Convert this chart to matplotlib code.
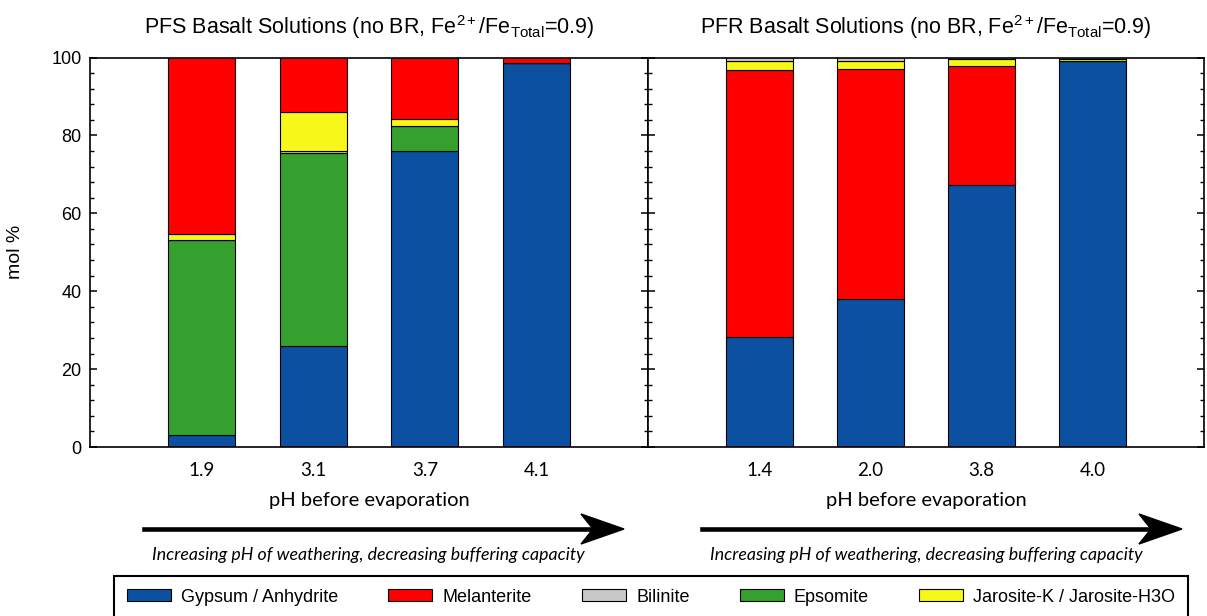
import matplotlib
matplotlib.use("Agg")
import matplotlib.pyplot as plt
from matplotlib.patches import Patch, Polygon
from matplotlib.lines import Line2D
from matplotlib.ticker import MultipleLocator

plt.rcParams['font.family'] = ['Liberation Sans', 'DejaVu Sans']
plt.rcParams['mathtext.fontset'] = 'custom'
plt.rcParams['mathtext.rm'] = 'Liberation Sans'
plt.rcParams['mathtext.it'] = 'Liberation Sans:italic'

# PFS basalt solutions
pfs_ph = ["1.9", "3.1", "3.7", "4.1"]
pfs_gypsum = [3.0, 26.0, 76.0, 98.5]
pfs_epsomite = [50.2, 49.5, 6.4, 0.0]
pfs_bilinite = [0.0, 0.6, 0.0, 0.0]
pfs_jarosite = [1.5, 9.9, 1.8, 0.0]
pfs_melanterite = [45.3, 14.0, 15.8, 1.5]

# PFR basalt solutions
pfr_ph = ["1.4", "2.0", "3.8", "4.0"]
pfr_gypsum = [28.3, 38.1, 67.2, 99.2]
pfr_melanterite = [68.5, 59.0, 30.7, 0.0]
pfr_jarosite = [2.2, 1.9, 1.6, 0.3]
pfr_bilinite = [1.0, 1.0, 0.5, 0.5]

minerals = ["Gypsum / Anhydrite", "Melanterite", "Bilinite", "Epsomite", "Jarosite-K / Jarosite-H3O"]
colors = {"Gypsum / Anhydrite": "#0c50a1", "Melanterite": "#ff0000", "Bilinite": "#c8c8c8",
          "Epsomite": "#35a02d", "Jarosite-K / Jarosite-H3O": "#f7f71a"}

W, H = 1207, 616
fig = plt.figure(figsize=(W / 100, H / 100), dpi=100)


def fx(px):
    return px / W


def fy(py):
    return 1 - py / H


ax1 = fig.add_axes([fx(90), fy(447), fx(648) - fx(90), fy(57.5) - fy(447)])
ax2 = fig.add_axes([fx(648), fy(447), fx(1204) - fx(648), fy(57.5) - fy(447)])


def stack(ax, labels, layers):
    x = list(range(1, len(labels) + 1))
    bottom = [0.0] * len(labels)
    for name, vals in layers:
        ax.bar(x, vals, 0.6, bottom=bottom, color=colors[name], edgecolor="black", linewidth=0.8)
        bottom = [b + v for b, v in zip(bottom, vals)]
    ax.set_xlim(0, 5)
    ax.set_ylim(0, 100)
    ax.set_xticks(x)
    ax.set_xticklabels(labels, fontfamily=["Lato", "DejaVu Sans"], fontsize=13.5)
    ax.tick_params(axis="x", length=0, pad=11)
    ax.yaxis.set_major_locator(MultipleLocator(20))
    ax.yaxis.set_minor_locator(MultipleLocator(4))
    ax.tick_params(axis="y", which="both", direction="in", left=True, right=True)
    ax.tick_params(axis="y", which="major", length=5, width=1.1, labelsize=13, pad=6)
    ax.tick_params(axis="y", which="minor", length=3, width=1.0)
    for s in ax.spines.values():
        s.set_linewidth(1.2)
    ax.set_xlabel("pH before evaporation", fontfamily=["Lato", "DejaVu Sans"], fontsize=14.5, labelpad=9)


stack(ax1, pfs_ph, [("Gypsum / Anhydrite", pfs_gypsum), ("Epsomite", pfs_epsomite),
                    ("Bilinite", pfs_bilinite), ("Jarosite-K / Jarosite-H3O", pfs_jarosite),
                    ("Melanterite", pfs_melanterite)])
stack(ax2, pfr_ph, [("Gypsum / Anhydrite", pfr_gypsum), ("Melanterite", pfr_melanterite),
                    ("Jarosite-K / Jarosite-H3O", pfr_jarosite), ("Bilinite", pfr_bilinite)])
ax2.tick_params(axis="y", labelleft=False)
ax1.set_ylabel("mol %", fontsize=14, labelpad=20)

ax1.set_title(r"PFS Basalt Solutions (no BR, Fe$^{2+}$/Fe$_{\mathrm{Total}}$=0.9)", fontsize=15.5, pad=17)
ax2.set_title(r"PFR Basalt Solutions (no BR, Fe$^{2+}$/Fe$_{\mathrm{Total}}$=0.9)", fontsize=15.5, pad=17)


# arrows under each panel
def arrow(x0, x1, y):
    fig.add_artist(Line2D([fx(x0), fx(x1 - 30)], [fy(y), fy(y)], color="black", lw=3.3))
    pts = [(x1, y), (x1 - 43, y - 15), (x1 - 31, y), (x1 - 43, y + 15)]
    fig.add_artist(Polygon([(fx(a), fy(b)) for a, b in pts], closed=True, color="black"))


arrow(144, 624, 529)
arrow(702, 1182, 529)

note = "Increasing pH of weathering, decreasing buffering capacity"
for cx in (368, 926):
    fig.text(fx(cx), fy(555), note, ha="center", va="center", style="italic", fontsize=12.8,
             fontfamily=["Lato", "DejaVu Sans"])

handles = [Patch(facecolor=colors[m], edgecolor="black", linewidth=0.8, label=m) for m in minerals]
leg = fig.legend(handles=handles, ncol=5, loc="center left", mode="expand",
                 bbox_to_anchor=(fx(114), fy(619), fx(1188) - fx(114), fy(575) - fy(619)),
                 fontsize=13, frameon=True, fancybox=False, edgecolor="black", framealpha=1,
                 handlelength=2.45, handleheight=0.6, borderpad=0.7, handletextpad=0.55,
                 columnspacing=1.0, borderaxespad=0)
leg.get_frame().set_linewidth(1.5)

fig.savefig("out.png", dpi=100)
